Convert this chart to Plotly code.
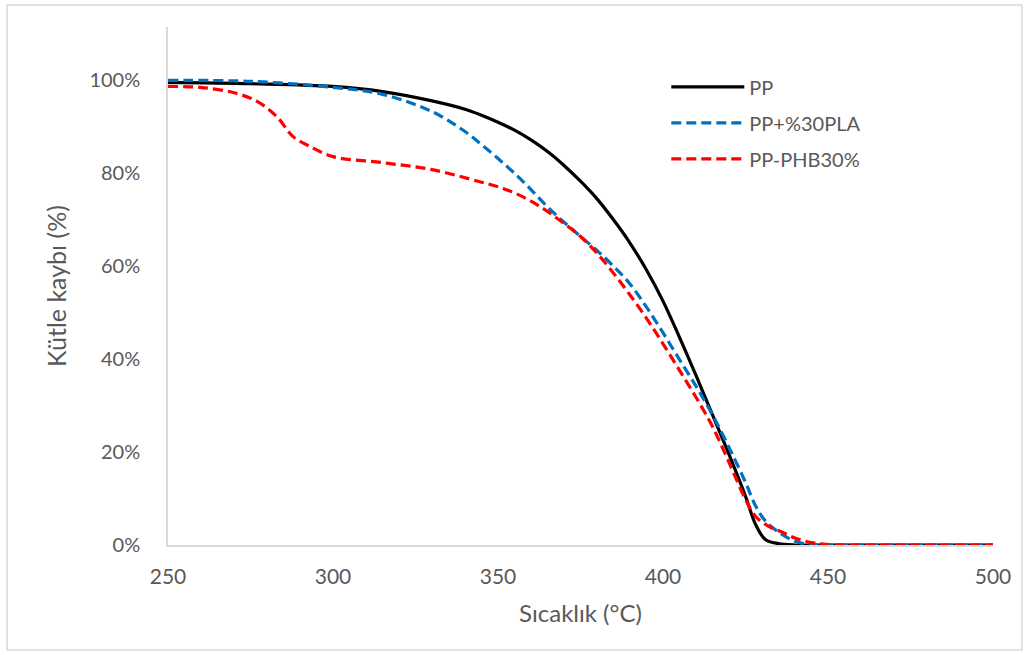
import plotly.graph_objects as go

# Temperature (°C) and remaining mass fraction for each sample
pp_T = [250, 275, 300, 315, 330, 340, 345, 350, 355, 360, 365, 370, 375, 380, 385, 390, 395, 400,
        405, 410, 415, 420, 425, 428, 431, 435, 440, 450, 475, 500]
pp_v = [0.996, 0.993, 0.987, 0.976, 0.956, 0.938, 0.925, 0.910, 0.893, 0.872, 0.847, 0.817, 0.783, 0.745,
        0.700, 0.650, 0.592, 0.525, 0.447, 0.365, 0.280, 0.195, 0.105, 0.045, 0.012, 0.003, 0.0, 0.0, 0.0, 0.0]

pla_T = [250, 275, 300, 315, 330, 340, 345, 350, 355, 360, 365, 370, 375, 380, 385, 390, 395, 400,
         405, 410, 415, 420, 425, 428, 431, 435, 440, 445, 450, 475, 500]
pla_v = [1.0, 0.998, 0.985, 0.970, 0.933, 0.890, 0.862, 0.832, 0.800, 0.765, 0.728, 0.695, 0.664, 0.634,
         0.600, 0.562, 0.512, 0.457, 0.399, 0.342, 0.280, 0.210, 0.135, 0.085, 0.052, 0.028, 0.008, 0.001,
         0.0, 0.0, 0.0]

phb_T = [250, 259.7, 269.7, 277, 283, 287.9, 293, 300, 315, 330, 345, 350, 355, 360, 365, 370, 375, 380,
         385, 390, 395, 400, 405, 410, 415, 420, 425, 428, 432, 436, 440, 445, 450, 475, 500]
phb_v = [0.987, 0.985, 0.974, 0.955, 0.922, 0.879, 0.858, 0.836, 0.823, 0.808, 0.781, 0.771, 0.758, 0.740,
         0.718, 0.692, 0.664, 0.628, 0.585, 0.538, 0.488, 0.433, 0.376, 0.318, 0.255, 0.178, 0.098, 0.062,
         0.040, 0.028, 0.015, 0.005, 0.001, 0.0, 0.0]

x_ticks = [250, 300, 350, 400, 450, 500]
y_ticks = [0, 0.2, 0.4, 0.6, 0.8, 1.0]

grey = "#595959"
font_family = "Lato, 'Open Sans', sans-serif"
dash = "10px,5px"

fig = go.Figure()
fig.add_trace(go.Scatter(x=pp_T, y=pp_v, mode="lines", name="PP", legendgroup="a",
                         line=dict(color="#000000", width=3.2, shape="spline", smoothing=1.0)))
fig.add_trace(go.Scatter(x=pla_T, y=pla_v, mode="lines", name="PP+%30PLA", legendgroup="b",
                         line=dict(color="#0070C0", width=3.2, dash=dash, shape="spline", smoothing=1.0)))
fig.add_trace(go.Scatter(x=phb_T, y=phb_v, mode="lines", name="PP-PHB30%", legendgroup="c",
                         line=dict(color="#FF0000", width=3.2, dash=dash, shape="spline", smoothing=1.0)))

fig.update_layout(
    width=1033, height=655,
    margin=dict(l=168, r=40, t=27, b=110),
    paper_bgcolor="white", plot_bgcolor="white",
    font=dict(family=font_family, size=20, color=grey),
    showlegend=True,
    legend=dict(x=0.604, y=0.922, xanchor="left", yanchor="top",
                font=dict(size=20, color=grey), itemwidth=73,
                tracegroupgap=7, bgcolor="rgba(0,0,0,0)"),
    xaxis=dict(range=[250, 500], tickvals=x_ticks, showgrid=False, zeroline=False,
               showline=True, linecolor="#d9d9d9", linewidth=1.5, ticks="",
               ticklabelstandoff=12, tickfont=dict(size=21),
               title=dict(text="Sıcaklık (°C)", font=dict(size=24, color=grey), standoff=18)),
    yaxis=dict(range=[0, 1.115], tickvals=y_ticks, tickformat=".0%", showgrid=False,
               zeroline=False, showline=True, linecolor="#d9d9d9", linewidth=1.5, ticks="",
               ticklabelstandoff=22, tickfont=dict(size=20),
               title=dict(text="Kütle kaybı (%)", font=dict(size=25, color=grey), standoff=16)),
    shapes=[dict(type="rect", xref="paper", yref="paper",
                 x0=-0.195, x1=1.035, y0=-0.2027, y1=1.0425,
                 line=dict(color="#d9d9d9", width=1.5), fillcolor="rgba(0,0,0,0)", layer="below")],
)

fig.write_html("out.html")
